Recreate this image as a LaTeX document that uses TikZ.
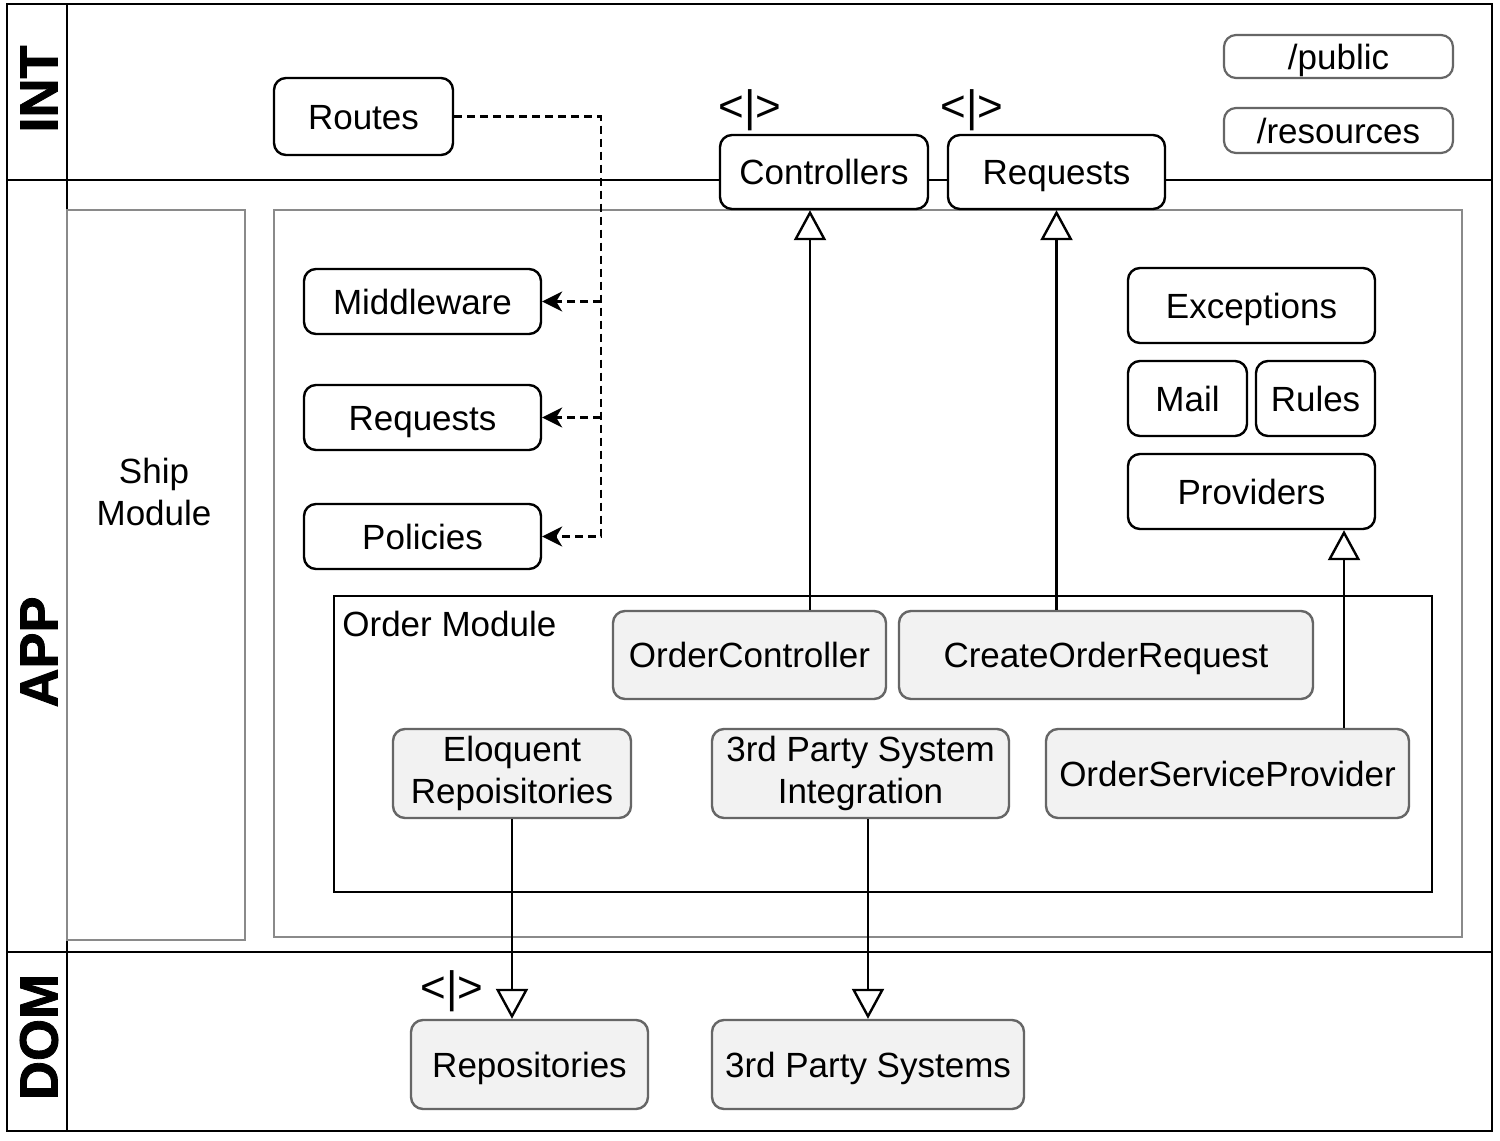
\documentclass[tikz,border=0pt]{standalone}
\usepackage{fontspec}
\setmainfont{Liberation Sans}
\newfontface\lanefont{Liberation Sans Bold}[FakeBold=1.5]
\usetikzlibrary{arrows.meta,calc}
\definecolor{boxgray}{HTML}{F2F2F2}
\definecolor{edgegray}{HTML}{666666}
\definecolor{framegray}{HTML}{8A8A8A}
\newcommand\mainfs{\fontsize{17.5}{21}\selectfont}
\newcommand\lanefs{\fontsize{27}{32}\selectfont\lanefont}
\begin{document}
\begin{tikzpicture}[x=0.5pt,y=-0.5pt,
  sz/.style 2 args={minimum width=#1*0.5pt, minimum height=#2*0.5pt},
  one/.style={text height=12.6pt, text depth=0pt},
  box/.style={draw=black, line width=1.2pt, rounded corners=6pt, fill=white, inner sep=0pt, font=\mainfs, align=center},
  dbox/.style={draw=edgegray, line width=1.1pt, rounded corners=6pt, fill=white, inner sep=0pt, font=\mainfs, align=center},
  gbox/.style={draw=edgegray, line width=1.2pt, rounded corners=6pt, fill=boxgray, inner sep=0pt, font=\mainfs, align=center},
  lane/.style={line width=1.3pt, draw=black},
  frame/.style={draw=framegray, line width=1.2pt},
  inh/.style={line width=1.2pt, -{Triangle[length=15pt,width=16pt,fill=white,line width=1.2pt]}},
  dep/.style={line width=1.1pt, dash pattern=on 4pt off 2.5pt, -{Stealth[length=10pt,width=10pt,inset=3pt]}},
  iface/.style={font=\fontsize{22}{26}\selectfont, inner sep=0pt},
  lanelabel/.style={font=\lanefs, rotate=90, inner sep=0pt}
]
\useasboundingbox (0,0) rectangle (1500,1141);
\fill[white] (0,0) rectangle (1500,1141);

% swimlanes
\draw[lane] (7,4) rectangle (1492,1131);
\draw[lane] (67,4) -- (67,1131);
\draw[lane] (7,180) -- (1492,180);
\draw[lane] (7,952) -- (1492,952);
\node[lanelabel] (lint) at (39,89) {INT};
\node[lanelabel] (lapp) at (39,652) {APP};
\node[lanelabel] (ldom) at (39,1037) {DOM};

% inner frames
\draw[frame] (67,210) rectangle (245,940);
\node[font=\mainfs, align=center] (ship) at (154,492) {Ship\\Module};
\draw[frame] (274,210) rectangle (1462,937);
\draw[line width=1.2pt] (334,596) rectangle (1432,892);
\node[font=\mainfs, anchor=base west, inner sep=0pt] (omlabel) at (342,636) {Order Module};

% INT layer
\node[box, one, sz={179}{77}] (routes) at (363.5,116.5) {Routes};
\node[box, one, sz={208}{74}] (ctl) at (824,172) {Controllers};
\node[box, one, sz={217}{74}] (reqtop) at (1056.5,172) {Requests};
\node[dbox, one, sz={229}{43}] (public) at (1338.5,56.5) {/public};
\node[dbox, one, sz={229}{45}] (resources) at (1338.5,130.5) {/resources};
\node[iface] (ifctl) at (750,110) {<|>};
\node[iface] (ifreq) at (972,110) {<|>};

% APP layer
\node[box, one, sz={237}{65}] (mw) at (422.5,301.5) {Middleware};
\node[box, one, sz={237}{65}] (reqapp) at (422.5,417.5) {Requests};
\node[box, one, sz={237}{65}] (pol) at (422.5,536.5) {Policies};
\node[box, one, sz={247}{75}] (exc) at (1251.5,305.5) {Exceptions};
\node[box, one, sz={119}{75}] (mail) at (1187.5,398.5) {Mail};
\node[box, one, sz={119}{75}] (rules) at (1315.5,398.5) {Rules};
\node[box, one, sz={247}{75}] (prov) at (1251.5,491.5) {Providers};

\node[gbox, one, sz={273}{88}] (oc) at (749.5,655) {OrderController};
\node[gbox, one, sz={414}{88}] (cor) at (1106,655) {CreateOrderRequest};
\node[gbox, sz={238}{89}] (elo) at (512,773.5) {Eloquent\\Repoisitories};
\node[gbox, sz={297}{89}] (integ) at (860.5,773.5) {3rd Party System\\Integration};
\node[gbox, one, sz={363}{89}] (osp) at (1227.5,773.5) {OrderServiceProvider};

% DOM layer
\node[gbox, one, sz={237}{89}] (repo) at (529.5,1064.5) {Repositories};
\node[gbox, one, sz={312}{89}] (tps) at (868,1064.5) {3rd Party Systems};
\node[iface] (ifrepo) at (452,991) {<|>};

% connectors
\coordinate (xctl) at (810,0);
\coordinate (xprov) at (1344,0);
\coordinate (xdash) at (601,0);
\draw[inh] (oc.north -| xctl) -- (ctl.south -| xctl);
\draw[inh] (cor.north -| reqtop.south) -- (reqtop.south);
\draw[inh] (osp.north -| xprov) -- (prov.south -| xprov);
\draw[inh] (elo.south) -- (repo.north -| elo.south);
\draw[inh] (integ.south -| tps.north) -- (tps.north);

\draw[dep] (routes.east) -| (xdash |- pol.east) -- (pol.east);
\draw[dep] (xdash |- mw.east) -- (mw.east);
\draw[dep] (xdash |- reqapp.east) -- (reqapp.east);
\end{tikzpicture}
\end{document}
